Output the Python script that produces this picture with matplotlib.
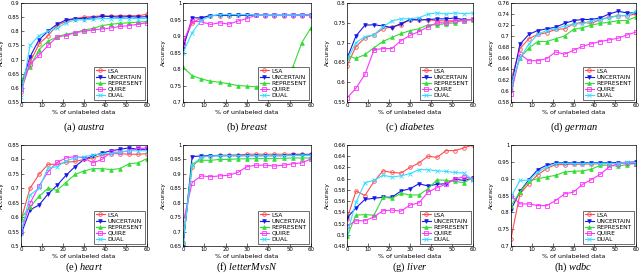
import matplotlib
matplotlib.use('Agg')
import matplotlib.pyplot as plt

plt.rcParams['mathtext.fontset'] = 'custom'
plt.rcParams['mathtext.rm'] = 'Liberation Serif'
plt.rcParams['mathtext.it'] = 'Liberation Serif:italic'

x = [0, 4.29, 8.57, 12.86, 17.14, 21.43, 25.71, 30, 34.29, 38.57, 42.86, 47.14, 51.43, 55.71, 60]
methods = ['LSA', 'UNCERTAIN', 'REPRESENT', 'QUIRE', 'DUAL']

austra = [
    [0.585, 0.69, 0.755, 0.785, 0.82, 0.835, 0.845, 0.85, 0.852, 0.855, 0.853, 0.855, 0.855, 0.855, 0.86],
    [0.605, 0.71, 0.77, 0.80, 0.825, 0.84, 0.845, 0.845, 0.848, 0.853, 0.852, 0.85, 0.852, 0.85, 0.852],
    [0.625, 0.675, 0.735, 0.765, 0.78, 0.79, 0.795, 0.805, 0.81, 0.82, 0.825, 0.828, 0.83, 0.832, 0.835],
    [0.595, 0.685, 0.715, 0.75, 0.78, 0.785, 0.795, 0.80, 0.805, 0.808, 0.812, 0.817, 0.82, 0.825, 0.83],
    [0.568, 0.75, 0.785, 0.80, 0.81, 0.83, 0.84, 0.84, 0.843, 0.845, 0.845, 0.845, 0.845, 0.845, 0.845],
]
breast = [
    [0.875, 0.94, 0.955, 0.962, 0.962, 0.962, 0.963, 0.963, 0.963, 0.962, 0.962, 0.962, 0.962, 0.962, 0.962],
    [0.862, 0.955, 0.955, 0.962, 0.963, 0.963, 0.963, 0.963, 0.963, 0.963, 0.963, 0.963, 0.963, 0.963, 0.963],
    [0.805, 0.78, 0.77, 0.763, 0.76, 0.755, 0.75, 0.748, 0.746, 0.75, 0.765, 0.785, 0.805, 0.88, 0.925],
    [0.88, 0.945, 0.943, 0.935, 0.94, 0.936, 0.945, 0.953, 0.963, 0.963, 0.963, 0.963, 0.963, 0.965, 0.965],
    [0.85, 0.91, 0.948, 0.96, 0.965, 0.965, 0.965, 0.965, 0.963, 0.963, 0.963, 0.963, 0.963, 0.963, 0.963],
]
diabetes = [
    [0.642, 0.69, 0.712, 0.72, 0.735, 0.74, 0.745, 0.758, 0.758, 0.758, 0.755, 0.755, 0.755, 0.758, 0.758],
    [0.66, 0.717, 0.744, 0.745, 0.742, 0.738, 0.748, 0.758, 0.757, 0.758, 0.76, 0.76, 0.762, 0.758, 0.758],
    [0.667, 0.66, 0.67, 0.687, 0.703, 0.713, 0.723, 0.73, 0.735, 0.745, 0.745, 0.748, 0.75, 0.758, 0.758],
    [0.56, 0.585, 0.62, 0.682, 0.685, 0.685, 0.705, 0.718, 0.728, 0.74, 0.75, 0.75, 0.755, 0.755, 0.76],
    [0.655, 0.70, 0.715, 0.72, 0.74, 0.755, 0.76, 0.76, 0.763, 0.772, 0.775, 0.772, 0.775, 0.773, 0.775],
]
german = [
    [0.62, 0.677, 0.695, 0.703, 0.706, 0.712, 0.713, 0.722, 0.725, 0.723, 0.73, 0.734, 0.737, 0.737, 0.74],
    [0.608, 0.685, 0.703, 0.71, 0.713, 0.716, 0.723, 0.728, 0.73, 0.73, 0.733, 0.74, 0.745, 0.742, 0.742],
    [0.605, 0.66, 0.678, 0.69, 0.69, 0.695, 0.70, 0.712, 0.715, 0.72, 0.723, 0.725, 0.728, 0.728, 0.735],
    [0.594, 0.667, 0.655, 0.655, 0.659, 0.671, 0.667, 0.674, 0.681, 0.686, 0.69, 0.693, 0.696, 0.702, 0.707],
    [0.61, 0.66, 0.685, 0.703, 0.71, 0.713, 0.718, 0.722, 0.722, 0.728, 0.73, 0.733, 0.737, 0.737, 0.745],
]
heart = [
    [0.59, 0.70, 0.748, 0.783, 0.783, 0.79, 0.793, 0.80, 0.805, 0.815, 0.82, 0.82, 0.818, 0.818, 0.82],
    [0.54, 0.625, 0.642, 0.68, 0.71, 0.745, 0.775, 0.80, 0.812, 0.822, 0.83, 0.835, 0.84, 0.835, 0.835],
    [0.597, 0.635, 0.672, 0.70, 0.693, 0.72, 0.748, 0.76, 0.768, 0.768, 0.765, 0.768, 0.785, 0.788, 0.803],
    [0.55, 0.648, 0.708, 0.757, 0.79, 0.805, 0.81, 0.805, 0.788, 0.80, 0.825, 0.825, 0.83, 0.838, 0.84],
    [0.545, 0.677, 0.70, 0.77, 0.775, 0.795, 0.805, 0.81, 0.815, 0.82, 0.82, 0.825, 0.83, 0.83, 0.83],
]
letter = [
    [0.66, 0.925, 0.958, 0.962, 0.965, 0.965, 0.966, 0.968, 0.968, 0.968, 0.968, 0.968, 0.968, 0.968, 0.968],
    [0.648, 0.96, 0.962, 0.963, 0.963, 0.963, 0.963, 0.963, 0.963, 0.963, 0.963, 0.963, 0.965, 0.965, 0.967],
    [0.668, 0.935, 0.947, 0.947, 0.95, 0.95, 0.952, 0.952, 0.953, 0.953, 0.953, 0.954, 0.955, 0.955, 0.955],
    [0.73, 0.87, 0.893, 0.89, 0.893, 0.895, 0.905, 0.925, 0.93, 0.93, 0.927, 0.93, 0.935, 0.938, 0.952],
    [0.66, 0.93, 0.958, 0.962, 0.963, 0.963, 0.963, 0.963, 0.963, 0.963, 0.963, 0.963, 0.963, 0.965, 0.965],
]
liver = [
    [0.528, 0.578, 0.57, 0.595, 0.614, 0.611, 0.61, 0.62, 0.628, 0.64, 0.638, 0.65, 0.65, 0.655, 0.66],
    [0.53, 0.548, 0.563, 0.565, 0.567, 0.567, 0.578, 0.582, 0.591, 0.587, 0.59, 0.591, 0.599, 0.597, 0.601],
    [0.497, 0.535, 0.536, 0.535, 0.567, 0.565, 0.574, 0.571, 0.571, 0.582, 0.598, 0.597, 0.595, 0.593, 0.602],
    [0.515, 0.525, 0.525, 0.532, 0.543, 0.544, 0.542, 0.553, 0.557, 0.576, 0.584, 0.59, 0.60, 0.603, 0.60],
    [0.502, 0.558, 0.593, 0.597, 0.606, 0.603, 0.605, 0.609, 0.616, 0.616, 0.614, 0.613, 0.611, 0.61, 0.597],
]
wdbc = [
    [0.722, 0.855, 0.885, 0.912, 0.93, 0.942, 0.942, 0.943, 0.943, 0.944, 0.944, 0.945, 0.945, 0.947, 0.948],
    [0.808, 0.862, 0.897, 0.927, 0.94, 0.947, 0.947, 0.947, 0.947, 0.947, 0.947, 0.947, 0.948, 0.948, 0.95],
    [0.82, 0.86, 0.893, 0.90, 0.905, 0.91, 0.92, 0.922, 0.923, 0.928, 0.94, 0.94, 0.937, 0.942, 0.945],
    [0.85, 0.825, 0.825, 0.82, 0.82, 0.835, 0.855, 0.86, 0.883, 0.897, 0.913, 0.935, 0.945, 0.947, 0.945],
    [0.845, 0.895, 0.895, 0.92, 0.935, 0.945, 0.945, 0.945, 0.945, 0.945, 0.945, 0.945, 0.945, 0.95, 0.948],
]

datasets = [austra, breast, diabetes, german, heart, letter, liver, wdbc]
names = ['austra', 'breast', 'diabetes', 'german', 'heart', 'letterMvsN', 'liver', 'wdbc']
letters = ['a', 'b', 'c', 'd', 'e', 'f', 'g', 'h']
yticks = [
    [0.55, 0.6, 0.65, 0.7, 0.75, 0.8, 0.85, 0.9],
    [0.7, 0.75, 0.8, 0.85, 0.9, 0.95, 1],
    [0.55, 0.6, 0.65, 0.7, 0.75, 0.8],
    [0.58, 0.6, 0.62, 0.64, 0.66, 0.68, 0.7, 0.72, 0.74, 0.76],
    [0.5, 0.55, 0.6, 0.65, 0.7, 0.75, 0.8, 0.85],
    [0.65, 0.7, 0.75, 0.8, 0.85, 0.9, 0.95, 1],
    [0.48, 0.5, 0.52, 0.54, 0.56, 0.58, 0.6, 0.62, 0.64, 0.66],
    [0.7, 0.75, 0.8, 0.85, 0.9, 0.95, 1],
]

colors = ['#ff4d4d', '#1a1ae6', '#33dd33', '#ff33ff', '#33ddff']
markers = ['o', 'v', '^', 's', 'x']
fills = ['none', None, None, 'none', None]

W, H = 640, 279
fig = plt.figure(figsize=(6.4, 2.79), dpi=100)
col_px = [(21, 147), (183, 311), (347, 473), (511, 636)]
row_px = [(3, 102), (145, 246)]
cap_y = [127, 267]

for i, data in enumerate(datasets):
    r, c = divmod(i, 4)
    x0, x1 = col_px[c]
    y0, y1 = row_px[r]
    ax = fig.add_axes([x0 / W, 1 - y1 / H, (x1 - x0) / W, (y1 - y0) / H])
    for k, vals in enumerate(data):
        kw = dict(color=colors[k], marker=markers[k], markersize=2.6, linewidth=0.8,
                  markeredgewidth=0.6, label=methods[k])
        if fills[k] == 'none':
            kw['markerfacecolor'] = 'none'
        ax.plot(x, vals, **kw)
    ax.set_xlim(0, 60)
    ax.set_ylim(yticks[i][0], yticks[i][-1])
    ax.set_xticks([0, 10, 20, 30, 40, 50, 60])
    ax.set_yticks(yticks[i])
    ax.set_yticklabels([('%g' % v) for v in yticks[i]])
    ax.tick_params(labelsize=3.9, length=2, width=0.4, pad=1.0, direction='in')
    for s in ax.spines.values():
        s.set_linewidth(0.5)
    ax.set_xlabel('% of unlabeled data', fontsize=4.5, labelpad=1)
    ax.set_ylabel('Accuracy', fontsize=4.2)
    ax.yaxis.set_label_coords(-17.0 / (x1 - x0), 0.5)
    leg = ax.legend(loc='lower right', fontsize=4.3, handlelength=1.6, borderpad=0.3,
                    labelspacing=0.15, handletextpad=0.4, borderaxespad=0.4,
                    fancybox=False, framealpha=1)
    leg.get_frame().set_linewidth(0.4)
    leg.get_frame().set_edgecolor('black')
    fig.text((x0 + x1) / 2 / W, 1 - cap_y[r] / H, '(%s) $\\mathit{%s}$' % (letters[i], names[i]),
             ha='center', va='center', fontsize=7.5, family='Liberation Serif')

fig.savefig('out.png', dpi=100)
